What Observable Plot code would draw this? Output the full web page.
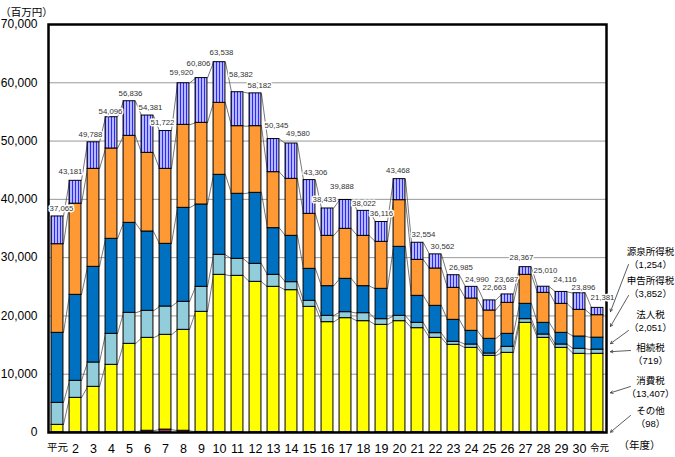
<!DOCTYPE html>
<html><head><meta charset="utf-8">
<script src="https://cdn.jsdelivr.net/npm/d3@7"></script>
<script src="https://cdn.jsdelivr.net/npm/@observablehq/plot@0.6"></script>
<style>body{margin:0;background:#fff}</style>
</head><body><div id="chart"></div>
<script>
// ---- data (百万円) ----
const yearLabels = ["平元","2","3","4","5","6","7","8","9","10","11","12","13","14","15","16","17","18","19","20","21","22","23","24","25","26","27","28","29","30","令元"];
const totals   = [37065,43181,49788,54096,56836,54381,51722,59920,60806,63538,58382,58182,50345,49580,43306,38433,39888,38022,36116,43468,32554,30562,26985,24990,22663,23687,28367,25010,24116,23896,21381];
const sonota   = [50,40,50,60,100,300,500,300,100,50,50,50,50,50,50,50,50,50,50,50,50,50,50,50,50,50,50,50,50,50,98];
const shohi    = [1265,5908,7785,11550,15113,15942,16257,17315,20603,27001,26829,25800,24942,24370,21511,18880,19566,19051,18422,19051,17850,16192,14991,14476,13104,13618,18766,16192,14476,13447,13407];
const sozoku   = [3775,2916,4175,5318,5318,4632,4861,4803,4289,3431,2917,3088,2059,1373,1029,1087,1030,1373,973,916,916,801,515,572,400,1030,629,572,572,858,719];
const hojin    = [12010,14756,16414,16299,15442,13612,10752,16128,14126,13726,11159,12182,8006,7949,5490,5089,5719,4632,5204,11838,4632,4689,3774,2345,2516,2230,2630,2002,2002,2116,2051];
const shinkoku = [15207,15640,16813,15499,14926,13496,12867,14240,14012,12353,11603,11438,9608,9780,9437,8636,8578,8636,8064,8006,6176,6405,5490,5547,4862,5319,4976,5147,4975,4575,3852];
const gensen   = [4758,3921,4551,5370,5937,6399,6485,7134,7676,6977,5824,5624,5680,6058,5789,4691,4945,4280,3403,3607,2930,2425,2165,2000,1731,1440,1316,1047,2041,2850,1254];
const seriesNames = ["その他","消費税","相続税","法人税","申告所得税","源泉所得税"];
const yTicks = [0,10000,20000,30000,40000,50000,60000,70000];

// ---- style / layout ----
const seriesColors = ["#993366","#FFFF00","#92CDDC","#0070C0","#FF9933","url(#stripes)"];
const W = 675, H = 457, mL = 48, mR = 69, mT = 24, mB = 25;
const xDomain = [-0.5, 30.5], yDomain = [0, 70000];
const half = 0.33;
// total-label nudges (px) relative to bar centre / bar top
const labelDx = [4,-5,-3,-1,1,3,-3,-2,-3,2,3.5,4,3,6.5,6,-3,-3.5,0.5,0,-1.5,6,7,7.5,5.5,5,-1,-4,2,3.5,4,5];
const labelDy = [-8,-9,-8,-6,-8,-8,-8.5,-11,-14.5,-10,-17.5,-8,-13.5,-10,-7.5,-9,-13.5,-7,-8.5,-8.5,-8,-8,-7.5,-7.5,-13,-15,-10,-16,-12,-6,-10];
// legend layout (px): [text centre y of name line, arrow start x, arrow start y] ordered 源泉..その他
const legendLayout = [[250,628,264],[279,628,295],[313,628,330],[346,630,350],[379,630,386],[409,630,415]];

const X = d3.scaleLinear(xDomain, [mL, W - mR]);
const Y = d3.scaleLinear(yDomain, [H - mB, mT]);

const series = [sonota, shohi, sozoku, hojin, shinkoku, gensen];
const n = yearLabels.length;
const idx = d3.range(n);
const rows = [];
const cum = series.map(() => []);
for (const i of idx) {
  let c = 0;
  series.forEach((s, k) => { rows.push({i, k, y1: c, y2: c + s[i]}); c += s[i]; cum[k][i] = c; });
}
const links = [];
cum.forEach((arr, k) => { for (let i = 0; i < n - 1; i++) links.push({x1: i + half, y1: arr[i], x2: i + 1 - half, y2: arr[i + 1]}); });

const last = n - 1;
const legendRows = seriesNames.map((name, k) => ({k, name, value: series[k][last],
  lo: k === 0 ? 0 : cum[k - 1][last], hi: cum[k][last]})).reverse();
legendRows.forEach((r, j) => { r.ty = legendLayout[j][0]; r.ax = legendLayout[j][1]; r.ay = legendLayout[j][2]; });

const fmt = d3.format(",");
const font = "'Liberation Sans', 'Noto Sans CJK JP', sans-serif";

const marks = [
  Plot.ruleY(yTicks.filter(t => t > 0 && t < 70000), {stroke: "#999", strokeWidth: 1}),
  Plot.link(links, {x1: "x1", y1: "y1", x2: "x2", y2: "y2", stroke: "#555", strokeWidth: 0.8}),
  ...series.map((s, k) => Plot.rect(rows.filter(r => r.k === k), {
    x1: r => r.i - half, x2: r => r.i + half, y1: "y1", y2: "y2",
    fill: seriesColors[k], stroke: "#000", strokeWidth: 1
  })),
  Plot.frame({stroke: "#000", strokeWidth: 2.5}),
  Plot.text(idx, {
    x: i => X.invert(X(i) + labelDx[i]), y: i => Y.invert(Y(totals[i]) + labelDy[i]),
    text: i => fmt(totals[i]), fontSize: 7.8, fill: "#333", stroke: "white", strokeWidth: 3, paintOrder: "stroke"
  }),
  // x tick labels
  Plot.text(idx.filter(i => i > 0 && i < last), {x: i => i, y: 0, dy: 16, text: i => yearLabels[i], fontSize: 12.5, fill: "#000"}),
  Plot.text([0], {x: i => i, y: 0, dy: 15, text: i => yearLabels[i], fontSize: 10.5, fill: "#000"}),
  Plot.text([last], {x: i => i, y: 0, dx: 2, dy: 15, text: i => yearLabels[i], fontSize: 9.5, fill: "#000"}),
  Plot.text(["（年度）"], {frameAnchor: "bottom-right", textAnchor: "middle", dx: 33, dy: 16, fontSize: 10.5, fill: "#000"}),
  Plot.text(["（百万円）"], {frameAnchor: "top-left", textAnchor: "middle", dx: -22, dy: -16, fontSize: 10.5, fill: "#000"}),
  // legend
  Plot.text(legendRows, {
    x: () => X.invert(650), y: r => Y.invert(r.ty + 6.5),
    text: r => `${r.name}\n（${fmt(r.value)}）`, lineHeight: 1.37, fontSize: 9.5, fill: "#000"
  }),
  Plot.arrow(legendRows, {
    x1: r => X.invert(r.ax), y1: r => Y.invert(r.ay),
    x2: () => X.invert(610), y2: r => (r.lo + r.hi) / 2,
    stroke: "#333", strokeWidth: 0.8, headLength: 5
  })
];

const chart = Plot.plot({
  width: W, height: H,
  marginLeft: mL, marginRight: mR, marginTop: mT, marginBottom: mB,
  style: {fontFamily: font, fontSize: "12px", background: "white", color: "#000"},
  x: {domain: xDomain, axis: null},
  y: {domain: yDomain, ticks: yTicks, tickFormat: fmt, tickSize: 0, tickPadding: 11, label: null},
  marks
});

const svg = chart.tagName.toLowerCase() === "svg" ? chart : chart.querySelector("svg");
const defs = document.createElementNS("http://www.w3.org/2000/svg", "defs");
defs.innerHTML = `<pattern id="stripes" patternUnits="userSpaceOnUse" width="3" height="4"><rect width="3" height="4" fill="#b8b8ff"/><rect width="1" height="4" fill="#2a2aff"/></pattern>`;
svg.insertBefore(defs, svg.firstChild);
document.getElementById("chart").appendChild(chart);
</script>
</body></html>
